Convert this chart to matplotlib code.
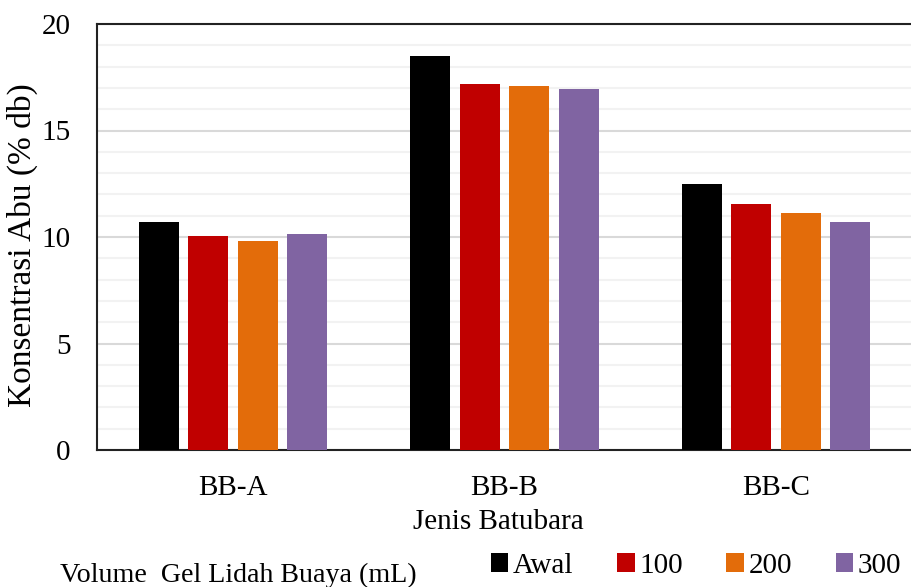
import matplotlib
matplotlib.use("Agg")
import matplotlib.pyplot as plt
import numpy as np
from matplotlib.patches import Patch

categories = ["BB-A", "BB-B", "BB-C"]
series = ["Awal", "100", "200", "300"]
awal = [10.70, 18.51, 12.49]
v100 = [10.05, 17.18, 11.55]
v200 = [9.83, 17.07, 11.14]
v300 = [10.14, 16.93, 10.70]
colors = ["#000000", "#c00000", "#e36c0a", "#8064a2"]

plt.rcParams["font.family"] = ["Liberation Serif", "DejaVu Serif"]

fig = plt.figure(figsize=(9.12, 5.87), dpi=100)
ax = fig.add_axes([97 / 912, 1 - 450 / 587, 1 - 97 / 912, (450 - 24) / 587])

x = np.arange(len(categories))
step = 49.5 / 272
width = 40 / 272
for i, (vals, col) in enumerate(zip([awal, v100, v200, v300], colors)):
    ax.bar(x + (i - 1.5) * step, vals, width, color=col, zorder=3)

ax.set_xlim(-0.5, 2.5)
ax.set_ylim(0, 20)
ax.set_yticks([0, 5, 10, 15, 20])
ax.set_yticks(np.arange(0, 20, 1), minor=True)
ax.grid(axis="y", which="major", color="#d9d9d9", linewidth=1.5, zorder=0)
ax.grid(axis="y", which="minor", color="#f2f2f2", linewidth=1.5, zorder=0)
ax.set_xticks(x)
ax.set_xticklabels(categories)
ax.tick_params(axis="both", which="both", length=0, labelsize=21)
ax.tick_params(axis="x", pad=18)
ax.tick_params(axis="y", pad=19)
for s in ["left", "top", "bottom"]:
    ax.spines[s].set_color("#222222")
    ax.spines[s].set_linewidth(1.5)
ax.spines["right"].set_visible(False)

ax.set_xlabel("Jenis Batubara", fontsize=21)
ax.set_ylabel("Konsentrasi Abu (% db)", fontsize=24)
# label positions in figure pixels
ax.xaxis.set_label_coords((498 - 97) / 815, -(522 - 450) / 426)
ax.yaxis.set_label_coords(-(97 - 22) / 815, (450 - 245) / 426)
ax.xaxis.label.set_va("center")
ax.yaxis.label.set_va("center")

handles = [Patch(facecolor=c) for c in colors]
fig.legend(handles, series, loc="center left", bbox_to_anchor=(491 / 912, 1 - 566 / 587),
           ncol=4, frameon=False, fontsize=21, handlelength=0.6, handleheight=0.6,
           handletextpad=0.15, columnspacing=1.5, borderaxespad=0, borderpad=0)
fig.text(60 / 912, 1 - 575 / 587, "Volume  Gel Lidah Buaya (mL)", fontsize=20.2,
         va="center", ha="left")

fig.savefig("out.png", dpi=100)
